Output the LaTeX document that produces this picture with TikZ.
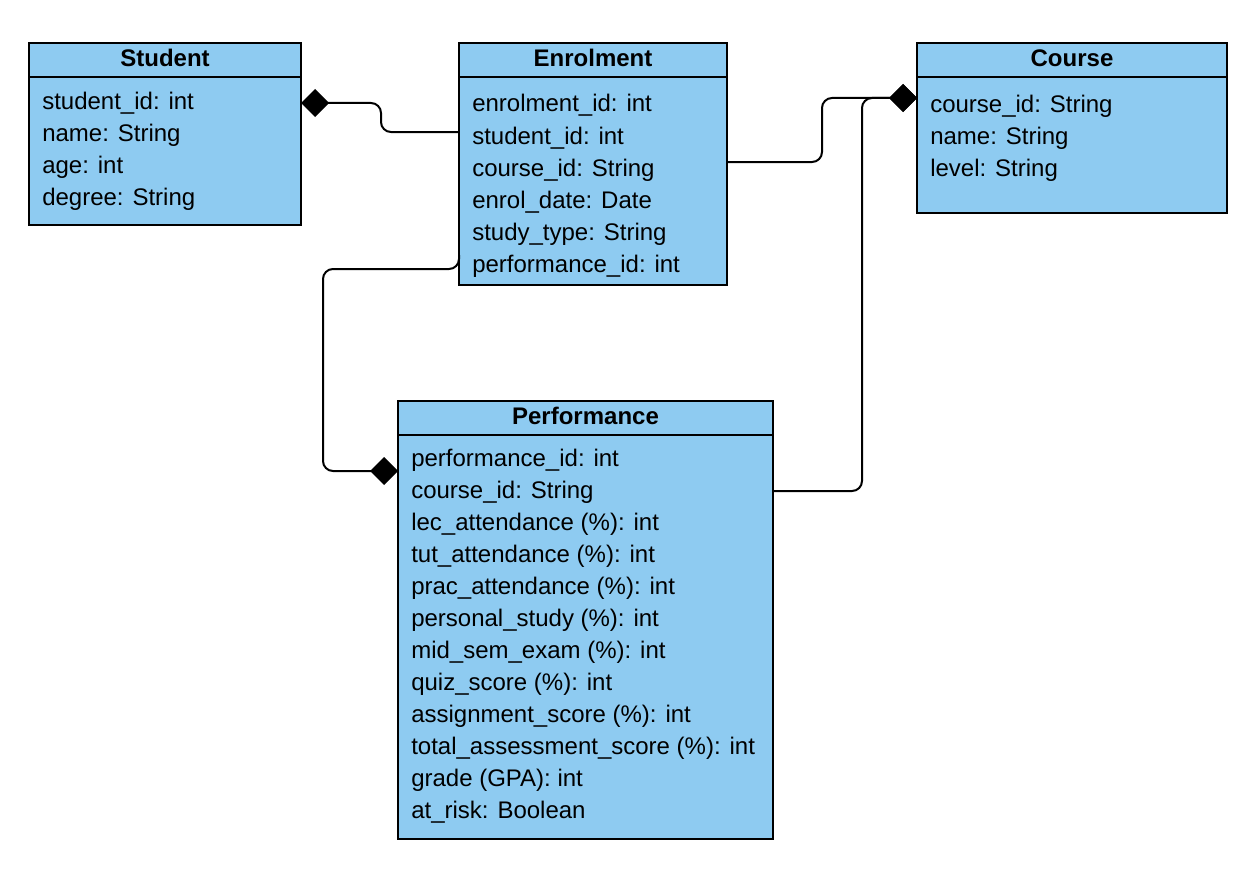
\documentclass[tikz,border=0pt]{standalone}
\usepackage{fontspec}
\setmainfont{Liberation Sans}
\usetikzlibrary{arrows.meta,calc}
\definecolor{boxblue}{RGB}{142,203,241}
\newcommand{\attrfont}{\fontsize{18pt}{22pt}\selectfont}
\newcommand{\ttlfont}{\fontsize{18pt}{22pt}\selectfont\bfseries}
\begin{document}
\begin{tikzpicture}[x=0.75pt,y=-0.75pt]
\tikzset{
  box/.style={draw=black, line width=1.5pt, fill=boxblue, rectangle, inner sep=0pt, outer sep=0pt, anchor=north west},
  sepline/.style={draw=black, line width=1.5pt},
  attr/.style={anchor=base west, inner sep=0pt},
  ttl/.style={anchor=base, inner sep=0pt},
  conn/.style={draw=black, line width=1.5pt, rounded corners=7.5pt},
  comp/.style={-{Diamond[length=21pt,width=21pt]}}
}
\useasboundingbox (0,0) rectangle (1260,892);

% boxes
\node[box, minimum width=204pt, minimum height=136.5pt] (student) at (29,43) {};
\node[box, minimum width=201pt, minimum height=181.5pt] (enrol) at (459,43) {};
\node[box, minimum width=232.5pt, minimum height=127.5pt] (course) at (917,43) {};
\node[box, minimum width=281.25pt, minimum height=328.5pt] (perf) at (398,401) {};

% header separators
\draw[sepline] ($(student.north west)+(0,34)$) -- ($(student.north east)+(0,34)$);
\draw[sepline] ($(enrol.north west)+(0,34)$) -- ($(enrol.north east)+(0,34)$);
\draw[sepline] ($(course.north west)+(0,34)$) -- ($(course.north east)+(0,34)$);
\draw[sepline] ($(perf.north west)+(0,34)$) -- ($(perf.north east)+(0,34)$);

% Student
\node[ttl, font=\ttlfont] (studentT) at (165,67) {Student};
\begin{scope}[every node/.style={attr, font=\attrfont}]
\node (s1) at (42,109) {student\_id: int};
\node (s2) at (42,141) {name: String};
\node (s3) at (42,173) {age: int};
\node (s4) at (42,205) {degree: String};
\end{scope}

% Enrolment
\node[ttl, font=\ttlfont] (enrolT) at (593,67) {Enrolment};
\begin{scope}[every node/.style={attr, font=\attrfont}]
\node (e1) at (472,112) {enrolment\_id: int};
\node (e2) at (472,144) {student\_id: int};
\node (e3) at (472,176) {course\_id: String};
\node (e4) at (472,208) {enrol\_date: Date};
\node (e5) at (472,240) {study\_type: String};
\node (e6) at (472,272) {performance\_id: int};
\end{scope}

% Course
\node[ttl, font=\ttlfont] (courseT) at (1072,67) {Course};
\begin{scope}[every node/.style={attr, font=\attrfont}]
\node (c1) at (930,112.5) {course\_id: String};
\node (c2) at (930,144.5) {name: String};
\node (c3) at (930,176.5) {level: String};
\end{scope}

% Performance
\node[ttl, font=\ttlfont] (perfT) at (585.5,424.5) {Performance};
\begin{scope}[every node/.style={attr, font=\attrfont}]
\node (p1) at (411,466.5) {performance\_id: int};
\node (p2) at (411,498.5) {course\_id: String};
\node (p3) at (411,530.5) {lec\_attendance (\%): int};
\node (p4) at (411,562.5) {tut\_attendance (\%): int};
\node (p5) at (411,594.5) {prac\_attendance (\%): int};
\node (p6) at (411,626.5) {personal\_study (\%): int};
\node (p7) at (411,658.5) {mid\_sem\_exam (\%): int};
\node (p8) at (411,690.5) {quiz\_score (\%): int};
\node (p9) at (411,722.5) {assignment\_score (\%): int};
\node (p10) at (411,754.5) {total\_assessment\_score (\%): int};
\node (p11) at (411,786.5) {grade (GPA): int};
\node (p12) at (411,818.5) {at\_risk: Boolean};
\end{scope}

% connector end points
\coordinate (eS) at ($(enrol.north west)+(0,89)$);
\coordinate (sE) at ($(student.north east)+(0,60)$);
\coordinate (eC) at ($(enrol.north east)+(0,119)$);
\coordinate (cW) at ($(course.north west)+(0,55)$);
\coordinate (pE) at ($(perf.north east)+(0,90)$);
\coordinate (eP) at ($(enrol.north west)+(0,212)$);
\coordinate (pW) at ($(perf.north west)+(0,70)$);

% connectors
\draw[conn, comp] (eS) -- (381,132) -- (381,103) -- (sE);
\draw[conn, comp] (eC) -- (822,162) -- (822,98) -- (cW);
\draw[conn, comp] (pE) -- (862,491) -- (862,98) -- (cW);
\draw[conn, comp] (eP) -- (459,269) -- (323,269) -- (323,471) -- (pW);
\end{tikzpicture}
\end{document}
